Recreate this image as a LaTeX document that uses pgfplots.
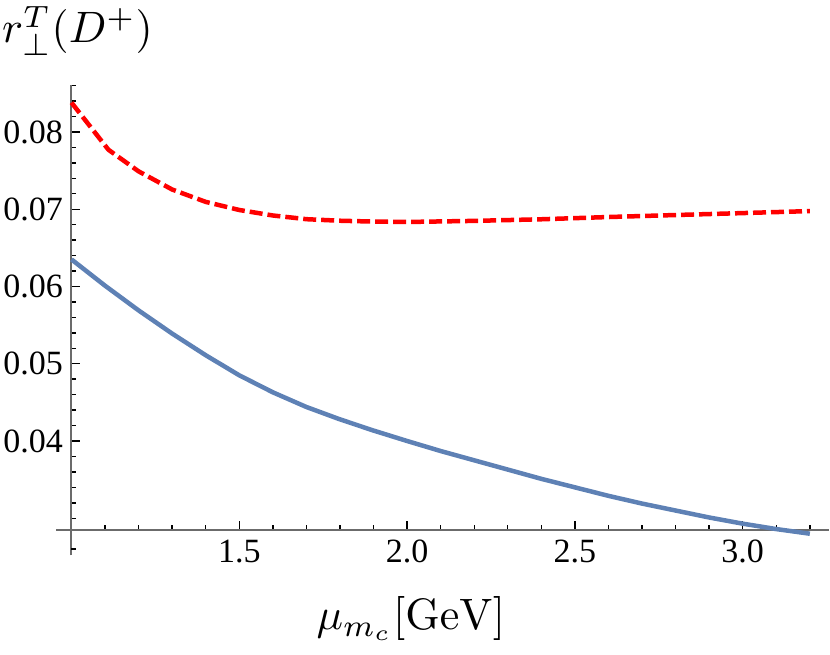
\documentclass[border=0pt]{standalone}
\usepackage{graphicx}
\usepackage[no-math]{fontspec}
\setmainfont{Liberation Serif}
\usepackage{pgfplots}
\pgfplotsset{compat=1.18}
\definecolor{mblue}{rgb}{0.368417,0.506779,0.709798}
\definecolor{axgray}{gray}{0.42}

\pgfplotstableread{
x y
1.0 0.0838
1.11 0.0777
1.2 0.0749
1.3 0.07255
1.4 0.07095
1.5 0.0699
1.6 0.06919
1.7 0.06871
1.8 0.06851
1.9 0.0684
2.0 0.06835
2.2 0.06849
2.4 0.0687
2.6 0.06899
2.8 0.06925
3.0 0.0695
3.2 0.06976
}\redtable

\pgfplotstableread{
x y
1.0 0.0635
1.1 0.0601
1.2 0.0569
1.3 0.0539
1.4 0.0511
1.5 0.0485
1.6 0.0463
1.7 0.0444
1.8 0.0428
1.9 0.04135
2.0 0.0400
2.1 0.0387
2.2 0.0375
2.3 0.0363
2.4 0.0351
2.5 0.0340
2.6 0.0329
2.7 0.0319
2.8 0.0310
2.9 0.0301
3.0 0.0293
3.1 0.0286
3.2 0.0280
}\bluetable

\begin{document}
\begin{tikzpicture}
\useasboundingbox (-71.5pt,-125pt) rectangle (758.5pt,530pt);
\begin{axis}[
  at={(0pt,0pt)}, anchor=south west,
  scale only axis, width=757.8pt, height=445pt,
  xmin=1.0, xmax=3.258, ymin=0.02848, ymax=0.08608,
  axis x line=bottom, axis y line=left,
  axis line style={-, draw=axgray, line width=2pt},
  tick align=inside,
  xtick={1.5,2,2.5,3},
  minor xtick={1.1,1.2,1.3,1.4,1.6,1.7,1.8,1.9,2.1,2.2,2.3,2.4,2.6,2.7,2.8,2.9,3.1,3.2},
  ytick={0.04,0.05,0.06,0.07,0.08},
  minor ytick={0.030,0.032,0.034,0.036,0.038,0.042,0.044,0.046,0.048,0.052,0.054,0.056,0.058,0.062,0.064,0.066,0.068,0.072,0.074,0.076,0.078,0.082,0.084,0.086},
  major tick length=9pt, minor tick length=5pt,
  tick style={black, line width=1.4pt},
  scaled y ticks=false, scaled x ticks=false,
  /pgf/number format/assume math mode=true,
  xticklabel style={font=\fontsize{34}{40}\selectfont, anchor=north, inner sep=0pt, yshift=-10pt,
    /pgf/number format/.cd, fixed, fixed zerofill, precision=1},
  yticklabel style={font=\fontsize{34}{40}\selectfont, anchor=east, inner sep=0pt, xshift=-8.5pt,
    /pgf/number format/.cd, fixed, fixed zerofill, precision=2},
  clip=false,
]
\draw[axgray, line width=2pt] (axis cs:0.955,0.02848) -- (axis cs:3.258,0.02848);
\draw[axgray, line width=2pt] (axis cs:1.0,0.0252) -- (axis cs:1.0,0.08608);
\draw[black, line width=1.4pt] (axis cs:1.0,0.026) -- ++(5pt,0pt);
\addplot[mblue, line width=4.5pt, line join=round] table[x=x,y=y] {\bluetable};
\addplot[red, line width=4.5pt, line join=round, dash pattern=on 13pt off 5pt] table[x=x,y=y] {\redtable};
\end{axis}
\node[anchor=base west, inner sep=0pt] at (-69.5pt,487pt) {\scalebox{4.4}{$r_{\perp}^{T}(D^{+})$}};
\node[anchor=base, inner sep=0pt] at (339.5pt,-100pt) {\scalebox{4.4}{$\mu_{m_c}[\mathrm{GeV}]$}};
\end{tikzpicture}
\end{document}
